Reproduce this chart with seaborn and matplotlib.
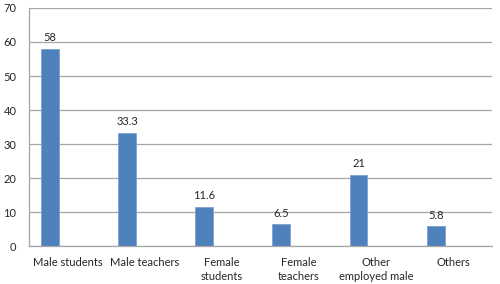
import matplotlib
matplotlib.use("Agg")
import matplotlib.pyplot as plt
import numpy as np
import seaborn as sns

# Data
categories = ["Male students", "Male teachers", "Female\nstudents",
              "Female\nteachers", "Other\nemployed male", "Others"]
values = [58, 33.3, 11.6, 6.5, 21, 5.8]
value_labels = ["58", "33.3", "11.6", "6.5", "21", "5.8"]

sns.set_style("white")
plt.rcParams["font.family"] = ["Lato", "DejaVu Sans"]

fig = plt.figure(figsize=(5, 2.84), dpi=100)
ax = fig.add_axes([0.058, 0.133, 0.926, 0.839])

sns.barplot(x=categories, y=values, order=categories, color="#4f81bd",
            saturation=1, width=0.23, edgecolor="#7ea3cf", linewidth=0.6, ax=ax)

ax.bar_label(ax.containers[0], labels=value_labels, padding=4, fontsize=8)

# slots: bar sits in the left part of each category slot (like an empty second series)
off = 0.27
n = len(categories)
ax.set_xlim(-off, n - off)
ax.set_xticks(np.arange(n + 1) - off)
ax.set_xticklabels([])
ax.set_xticks(np.arange(n) - off + 0.5, minor=True)
ax.set_xticklabels(categories, minor=True, fontsize=8, linespacing=1.3)
ax.tick_params(axis="x", which="major", length=3, color="#a6a6a6", width=0.8, direction="out")
ax.tick_params(axis="x", which="minor", length=0, pad=8)

ax.set_ylim(0, 70)
ax.set_yticks(range(0, 71, 10))
ax.tick_params(axis="y", labelsize=8, length=0, pad=9)
ax.yaxis.grid(True, color="#a6a6a6", linewidth=0.9)
ax.set_axisbelow(True)

for s in ["top", "right"]:
    ax.spines[s].set_visible(False)
for s in ["left", "bottom"]:
    ax.spines[s].set_color("#a6a6a6")
    ax.spines[s].set_linewidth(0.9)

fig.savefig("out.png", dpi=100)
